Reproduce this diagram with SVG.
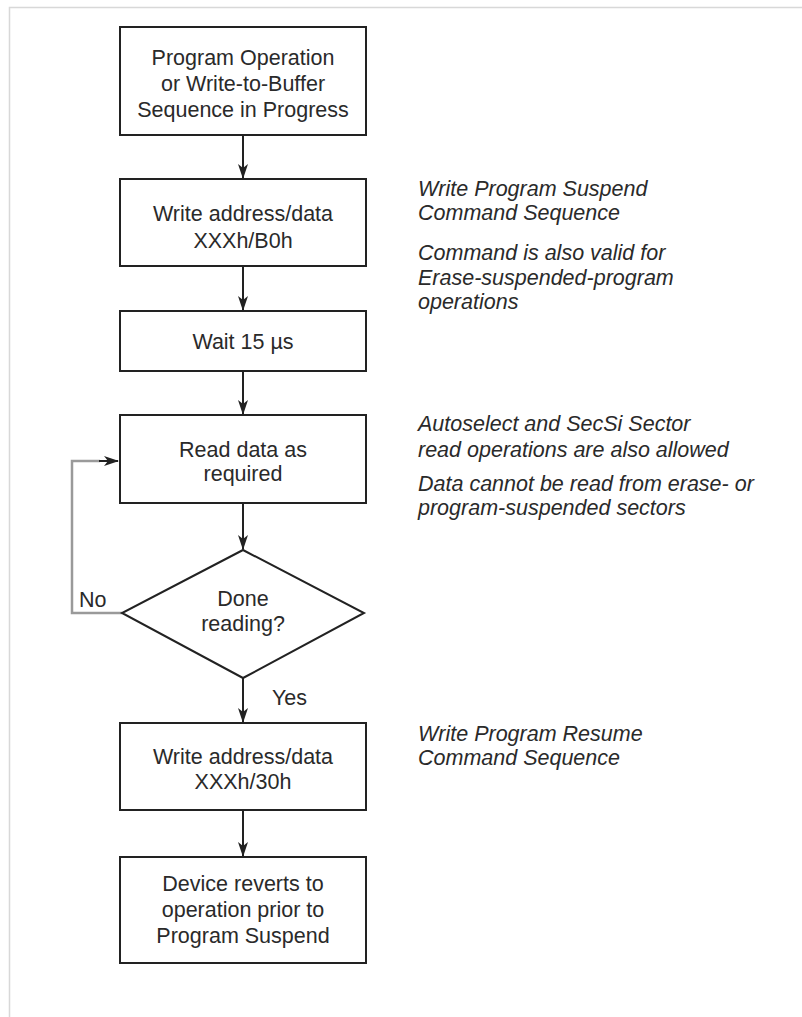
<svg xmlns="http://www.w3.org/2000/svg" width="802" height="1017" viewBox="0 0 802 1017">
  <style>
    .box { fill: #ffffff; stroke: #222222; stroke-width: 2; }
    .t { font-family: "Liberation Sans", Arial, sans-serif; font-size: 21.5px; fill: #2a2a2a; text-anchor: middle; }
    .n { font-family: "Liberation Sans", Arial, sans-serif; font-size: 21.5px; fill: #2a2a2a; font-style: italic; }
    .lbl { font-family: "Liberation Sans", Arial, sans-serif; font-size: 21.5px; fill: #2a2a2a; }
    .c { fill: none; stroke: #222222; stroke-width: 2; }
    .loop { fill: none; stroke: #9a9a9a; stroke-width: 2.5; }
  </style>
  <defs>
    <marker id="ah" markerWidth="15" markerHeight="11" refX="14" refY="5" orient="auto" markerUnits="userSpaceOnUse" viewBox="0 0 15 10">
      <path d="M0,0 L15,5 L0,10 L4,5 Z" fill="#222222"/>
    </marker>
  </defs>
  <rect x="0" y="0" width="802" height="1017" fill="#ffffff"/>
  <path d="M802,7.5 L9.5,7.5 L9.5,1017" fill="none" stroke="#d8d8d8" stroke-width="1.5"/>

  <g id="connectors">
    <line class="c" x1="243" y1="135" x2="243" y2="178" marker-end="url(#ah)"/>
    <line class="c" x1="243" y1="266" x2="243" y2="310" marker-end="url(#ah)"/>
    <line class="c" x1="243" y1="371" x2="243" y2="414" marker-end="url(#ah)"/>
    <line class="c" x1="243" y1="503" x2="243" y2="549" marker-end="url(#ah)"/>
    <line class="c" x1="243" y1="678" x2="243" y2="722" marker-end="url(#ah)"/>
    <line class="c" x1="243" y1="810" x2="243" y2="856" marker-end="url(#ah)"/>
    <path class="loop" d="M122,613 L72,613 L72,461 L100,461"/>
    <line class="c" x1="99" y1="461" x2="118" y2="461" marker-end="url(#ah)"/>
    <text class="lbl" x="79" y="607">No</text>
    <text class="lbl" x="272" y="705">Yes</text>
  </g>

  <g id="n1">
    <rect class="box" x="120" y="27" width="246" height="108"/>
    <text class="t" x="243" y="65">Program Operation</text>
    <text class="t" x="243" y="91">or Write-to-Buffer</text>
    <text class="t" x="243" y="117">Sequence in Progress</text>
  </g>
  <g id="n2">
    <rect class="box" x="120" y="179" width="246" height="87"/>
    <text class="t" x="243" y="221">Write address/data</text>
    <text class="t" x="243" y="248">XXXh/B0h</text>
  </g>
  <g id="n3">
    <rect class="box" x="120" y="311" width="246" height="60"/>
    <text class="t" x="243" y="349">Wait 15 µs</text>
  </g>
  <g id="n4">
    <rect class="box" x="120" y="415" width="246" height="88"/>
    <text class="t" x="243" y="457">Read data as</text>
    <text class="t" x="243" y="481">required</text>
  </g>
  <g id="n5">
    <polygon class="box" points="243,550 364,613 243,678 122,613"/>
    <text class="t" x="243" y="606">Done</text>
    <text class="t" x="243" y="631">reading?</text>
  </g>
  <g id="n6">
    <rect class="box" x="120" y="723" width="246" height="87"/>
    <text class="t" x="243" y="764">Write address/data</text>
    <text class="t" x="243" y="789">XXXh/30h</text>
  </g>
  <g id="n7">
    <rect class="box" x="120" y="857" width="246" height="106"/>
    <text class="t" x="243" y="891">Device reverts to</text>
    <text class="t" x="243" y="917">operation prior to</text>
    <text class="t" x="243" y="943">Program Suspend</text>
  </g>

  <g id="notes">
    <text class="n" x="418" y="196">Write Program Suspend</text>
    <text class="n" x="418" y="220">Command Sequence</text>
    <text class="n" x="418" y="260">Command is also valid for</text>
    <text class="n" x="418" y="285">Erase-suspended-program</text>
    <text class="n" x="418" y="309">operations</text>
    <text class="n" x="418" y="431">Autoselect and SecSi Sector</text>
    <text class="n" x="418" y="457">read operations are also allowed</text>
    <text class="n" x="418" y="491">Data cannot be read from erase- or</text>
    <text class="n" x="418" y="515">program-suspended sectors</text>
    <text class="n" x="418" y="741">Write Program Resume</text>
    <text class="n" x="418" y="765">Command Sequence</text>
  </g>
</svg>
